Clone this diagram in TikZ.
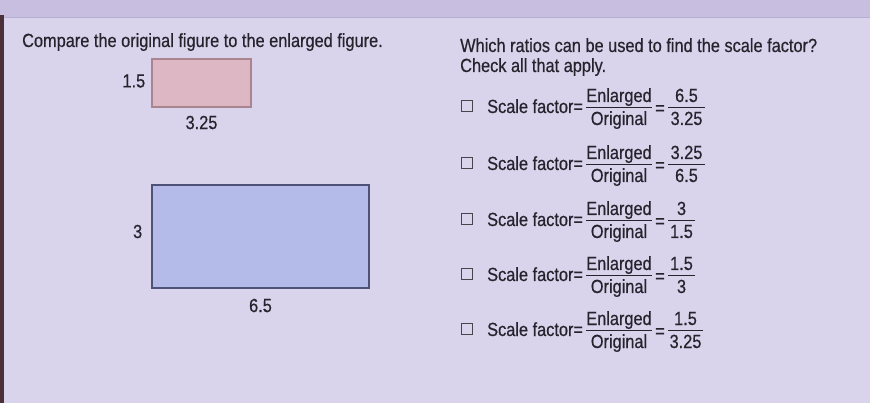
\documentclass[tikz,border=0pt]{standalone}
\usepackage{fontspec}
\setmainfont{Liberation Sans}[FakeStretch=0.86,FakeBold=0.5]
\usepackage{xcolor}
\definecolor{screenbg}{HTML}{D9D3EC}
\definecolor{topbar}{HTML}{C8BEE0}
\definecolor{topline}{HTML}{B7AED2}
\definecolor{bezel}{HTML}{4A3038}
\definecolor{inkgray}{HTML}{25242D}
\definecolor{origfill}{HTML}{DEB7C4}
\definecolor{origline}{HTML}{A8858F}
\definecolor{enlfill}{HTML}{B4BBE9}
\definecolor{enlline}{HTML}{4E5278}
\usetikzlibrary{positioning}

\tikzset{
  txt/.style={text=inkgray, font=\fontsize{19}{23}\selectfont, inner sep=0pt},
  origrect/.style={draw=origline, fill=origfill, line width=1.2pt, inner sep=0pt},
  enlrect/.style={draw=enlline, fill=enlfill, line width=1.2pt, inner sep=0pt},
  checkbox/.style={draw=inkgray!85, line width=1pt, minimum size=11pt, inner sep=0pt},
  fracbar/.style={draw=inkgray, line width=0.9pt},
}

\begin{document}
\begin{tikzpicture}[x=1pt,y=-1pt]
  % screen
  \useasboundingbox (0,0) rectangle (870,403);
  \fill[screenbg] (0,0) rectangle (870,403);
  \fill[topbar] (0,0) rectangle (870,17);
  \draw[topline, line width=1pt] (0,17.5) -- (870,17.5);
  \fill[bezel] (0,15) rectangle (4,403);

  % left: original and enlarged figure
  \node[txt, anchor=base west] (compare) at (22,47) {Compare the original figure to the enlarged figure.};
  \node[origrect, minimum width=99pt, minimum height=48pt] (orig) at (201.5,83) {};
  \node[txt, left=6pt of orig, yshift=2pt] (origh) {1.5};
  \node[txt, below=8pt of orig] (origw) {3.25};
  \node[enlrect, minimum width=217pt, minimum height=103pt] (enl) at (260.5,236.5) {};
  \node[txt, left=9pt of enl, yshift=5pt] (enlh) {3};
  \node[txt, below=10pt of enl] (enlw) {6.5};

  % right: question and choices
  \node[txt, anchor=base west] (ask) at (460,52) {Which ratios can be used to find the scale factor?};
  \node[txt, anchor=base west] (check) at (460,72) {Check all that apply.};
  \foreach \yb/\n/\d/\w [count=\i] in {107.5/6.5/3.25/37, 164.5/3.25/6.5/37, 220.5/3/1.5/27,
                                        275.5/1.5/3/27, 330.5/1.5/3.25/35}{
    \node[checkbox] (box\i) at (467,\yb-1.5) {};
    \node[txt, anchor=base west] (sf\i) at (487,\yb+5.5) {Scale factor=};
    \coordinate (barA\i) at (619,\yb);
    \node[txt, anchor=base] (enlg\i) at (619,\yb-5.5) {Enlarged};
    \node[txt, anchor=base] (orig\i) at (619,\yb+17.5) {Original};
    \draw[fracbar] (enlg\i.west |- barA\i) -- (enlg\i.east |- barA\i);
    \node[txt, anchor=base] (eq\i) at (660,\yb+7) {=};
    \coordinate (barB\i) at (668,\yb);
    \node[txt, anchor=base] (num\i) at (668+\w/2,\yb-5.5) {\n};
    \node[txt, anchor=base] (den\i) at (668+\w/2,\yb+17.5) {\d};
    \draw[fracbar] (barB\i) -- ++(\w,0);
  }
\end{tikzpicture}
\end{document}
